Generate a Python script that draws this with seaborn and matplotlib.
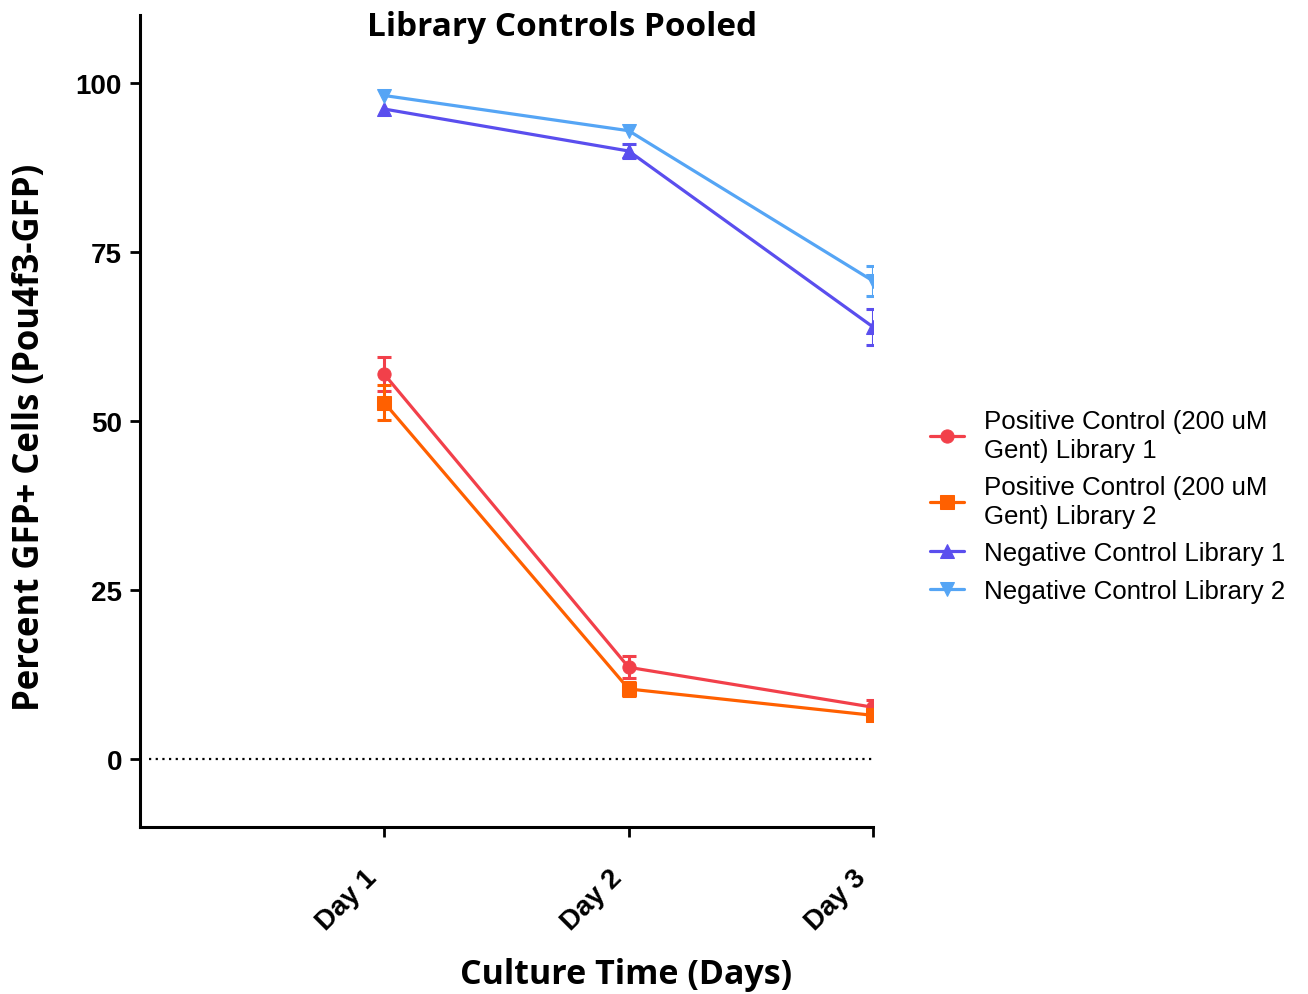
import matplotlib
matplotlib.use("Agg")
import matplotlib.pyplot as plt
import matplotlib.transforms as mtransforms
import seaborn as sns
import numpy as np
import pandas as pd

days = ["Day 1", "Day 2", "Day 3"]
day_pos = [1, 2, 3]

series_names = [
    "Positive Control (200 uM\nGent) Library 1",
    "Positive Control (200 uM\nGent) Library 2",
    "Negative Control Library 1",
    "Negative Control Library 2",
]
pos_lib1 = [56.9, 13.6, 7.7]
pos_lib1_err = [2.5, 1.6, 1.0]
pos_lib2 = [52.7, 10.4, 6.5]
pos_lib2_err = [2.6, 1.0, 0.5]
neg_lib1 = [96.1, 89.9, 63.9]
neg_lib1_err = [0.0, 1.0, 2.6]
neg_lib2 = [98.1, 92.9, 70.7]
neg_lib2_err = [0.0, 0.0, 2.2]

colors = ["#F2404A", "#FF6000", "#5A4EEE", "#55A5F5"]
markers = ["o", "s", "^", "v"]

values = [pos_lib1, pos_lib2, neg_lib1, neg_lib2]
errors = [pos_lib1_err, pos_lib2_err, neg_lib1_err, neg_lib2_err]

sns.set_style("white")
plt.rcParams["font.family"] = ["Liberation Sans", "DejaVu Sans"]
plt.rcParams["text.color"] = "black"
plt.rcParams["xtick.color"] = "black"
plt.rcParams["ytick.color"] = "black"
plt.rcParams["axes.labelcolor"] = "black"

fig = plt.figure(figsize=(13.08, 9.95), dpi=100)
ax = fig.add_axes([140/1308, 1-828/995, (873-140)/1308, (828-16)/995])

ax.axhline(0, color="black", ls=(0, (1, 2)), lw=1.6, xmin=0.012, xmax=1.0, zorder=1)

for name, vals, errs, c, m in zip(series_names, values, errors, colors, markers):
    df = pd.DataFrame({"x": day_pos, "y": vals})
    sns.lineplot(data=df, x="x", y="y", ax=ax, color=c, marker=m, markersize=9.5,
                 markeredgecolor=c, lw=2.3, label=name, zorder=3)
    ex = [x for x, e in zip(day_pos, errs) if e > 0]
    ey = [v for v, e in zip(vals, errs) if e > 0]
    ee = [e for e in errs if e > 0]
    ax.errorbar(ex, ey, yerr=ee, fmt="none", ecolor=c, elinewidth=2.2,
                capsize=5, capthick=2.2, zorder=2)

ax.set_xlim(0, 3)
ax.set_ylim(-10, 110)
ax.set_xticks(day_pos)
ax.set_yticks([0, 25, 50, 75, 100])
ax.tick_params(axis="both", direction="out", length=7, width=2, color="black",
               left=True, bottom=True, pad=6)
ax.tick_params(axis="x", pad=22)
ax.set_xticklabels(days, rotation=45, ha="right", rotation_mode="anchor",
                   fontsize=20, fontweight="bold", color="black")
ax.set_yticklabels(["0", "25", "50", "75", "100"], fontsize=20, fontweight="bold",
                   color="black")
offset = mtransforms.ScaledTranslation(-20/100, 3/100, fig.dpi_scale_trans)
for lbl in ax.get_xticklabels():
    lbl.set_transform(lbl.get_transform() + offset)
for s in ["top", "right"]:
    ax.spines[s].set_visible(False)
for s in ["left", "bottom"]:
    ax.spines[s].set_linewidth(2.2)
    ax.spines[s].set_color("black")
ax.set_xlabel("")
ax.set_ylabel("")

fig.text(562/1308, 1-27/995, "Library Controls Pooled", ha="center", va="center",
         fontsize=24, fontweight="bold", family="Open Sans", color="black")
fig.text(30/1308, 1-437/995, "Percent GFP+ Cells (Pou4f3-GFP)", ha="center", va="center",
         rotation=90, fontsize=25, fontweight="bold", family="Open Sans", color="black")
fig.text(626/1308, 1-975/995, "Culture Time (Days)", ha="center", va="center",
         fontsize=24.5, fontweight="bold", family="Open Sans", color="black")

handles, labels = ax.get_legend_handles_labels()
leg = ax.legend(handles, labels, loc="center left", bbox_to_anchor=(907/1308, 1-507/995),
                bbox_transform=fig.transFigure, frameon=False, fontsize=18.6,
                handlelength=1.3, handletextpad=0.8, labelspacing=0.52)
for t in leg.get_texts():
    t.set_color("black")
    t.set_linespacing(1.25)

fig.savefig("out.png", dpi=100)
